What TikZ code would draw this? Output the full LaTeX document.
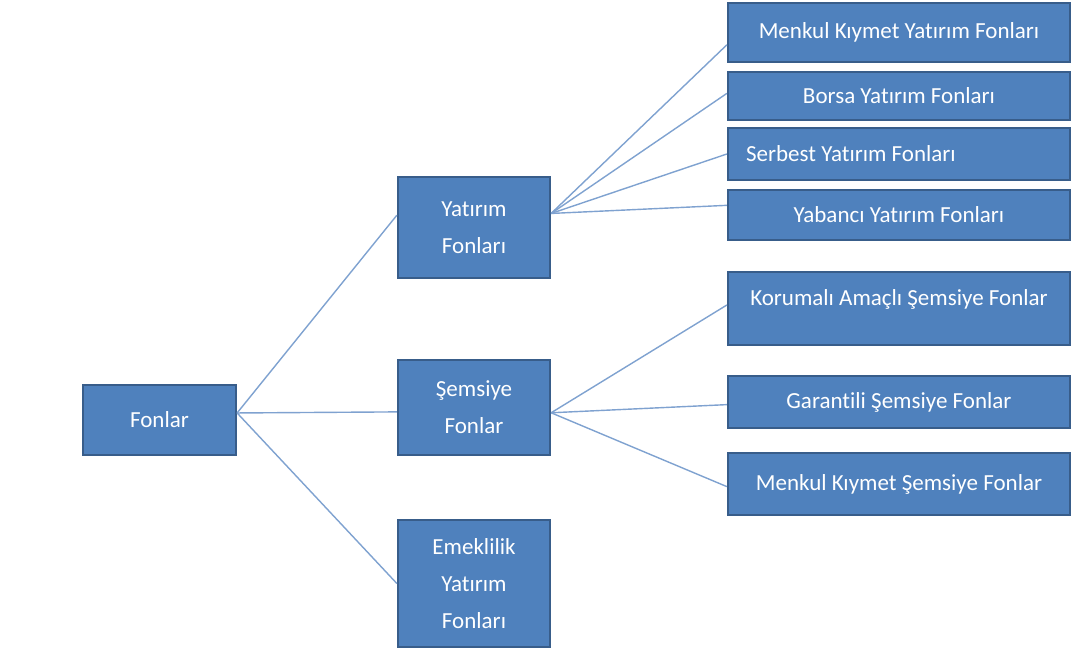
\documentclass[tikz,border=0pt]{standalone}
\usepackage{fontspec}
\setmainfont{Carlito}[Ligatures=NoCommon]
\definecolor{boxfill}{HTML}{4F81BD}
\definecolor{boxline}{HTML}{385D8A}
\definecolor{conline}{HTML}{7FA2D0}
\begin{document}
\begin{tikzpicture}[x=0.02cm,y=-0.02cm,
    box/.style={draw=boxline,fill=boxfill,line width=1.3pt,text=white,
      minimum width=3.04cm,align=center,inner sep=2pt,
      font=\fontsize{13.1}{21}\selectfont},
    rbox/.style={box,minimum width=6.84cm},
    con/.style={draw=conline,line width=0.8pt}]

    \useasboundingbox (0,0) rectangle (1072,655);

    \node[box,minimum width=3.06cm,minimum height=1.4cm] (fon) at (159.5,420) {Fonlar};
    \node[box,minimum height=2.02cm] (yat) at (474,227.5) {Yatırım\\Fonları};
    \node[box,minimum height=1.9cm] (sem) at (474,407.5) {Şemsiye\\Fonlar};
    \node[box,minimum height=2.54cm] (eme) at (474,583.5) {Emeklilik\\Yatırım\\Fonları};

    \node[rbox,minimum height=1.18cm] (mky) at (899,32.5) {Menkul Kıymet Yatırım Fonları};
    \node[rbox,minimum height=0.96cm] (bor) at (899,96) {Borsa Yatırım Fonları};
    \node[rbox,minimum height=1.04cm,inner xsep=0.36cm,text width=6.12cm,
      align=flush left] (ser) at (899,154) {Serbest Yatırım Fonları};
    \node[rbox,minimum height=1cm] (yab) at (899,215) {Yabancı Yatırım Fonları};
    \node[rbox,minimum height=1.46cm,text depth=12.5pt] (kor) at (899,308.5)
         {Korumalı Amaçlı Şemsiye Fonlar};
    \node[rbox,minimum height=1.04cm] (gar) at (899,402) {Garantili Şemsiye Fonlar};
    \node[rbox,minimum height=1.24cm] (mks) at (899,484) {Menkul Kıymet Şemsiye Fonlar};

    \draw[con] ([yshift=4pt]fon.east) -- ([yshift=7pt]yat.west);
    \draw[con] ([yshift=4pt]fon.east) -- ([yshift=-2.5pt]sem.west);
    \draw[con] ([yshift=4pt]fon.east) -- (eme.west);

    \draw[con] ([yshift=8pt]yat.east) -- ([yshift=-7pt]mky.west);
    \draw[con] ([yshift=8pt]yat.east) -- ([yshift=1.5pt]bor.west);
    \draw[con] ([yshift=8pt]yat.east) -- (ser.west);
    \draw[con] ([yshift=8pt]yat.east) -- ([yshift=5.5pt]yab.west);

    \draw[con] ([yshift=-3pt]sem.east) -- ([yshift=2pt]kor.west);
    \draw[con] ([yshift=-3pt]sem.east) -- ([yshift=-1.5pt]gar.west);
    \draw[con] ([yshift=-3pt]sem.east) -- ([yshift=-1.5pt]mks.west);

  \end{tikzpicture}
\end{document}
